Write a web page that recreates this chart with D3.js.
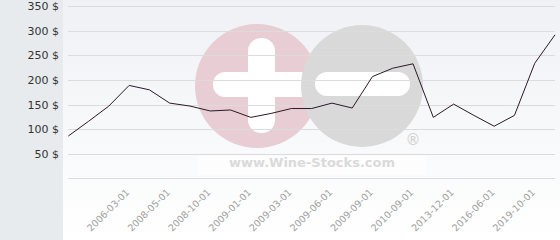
<!DOCTYPE html>
<html lang="en">
<head>
  <meta charset="utf-8">
  <title>Wine price</title>
  <style>
    html, body { margin: 0; padding: 0; background: #fff; }
    svg { display: block; font-family: "DejaVu Sans", Verdana, sans-serif; }
  </style>
</head>
<body>
  <div id="chart"></div>

  <script src="https://d3js.org/d3.v7.min.js"></script>
  <script type="text/javascript">
    // one price per point (only every 2nd point gets a label)
    const prices = [86, 116, 147, 189, 180, 153, 147, 137, 139, 124, 132, 142, 142,
                    153, 143, 207, 224, 233, 124, 151, 128, 106, 128, 234, 292];
    // labels sit on points 3, 5, 7 ... 23
    const tickLabels = ['2006-03-01', '2008-05-01', '2008-10-01', '2009-01-01', '2009-03-01',
                        '2009-06-01', '2009-09-01', '2010-09-01', '2013-12-01', '2016-06-01', '2019-10-01'];
    const yTicks = [0, 50, 100, 150, 200, 250, 300, 350];

    const width = 560;
    const height = 240;

    const x = d3.scalePoint()
      .domain(d3.range(prices.length))
      .range([68.3, 555]);
    const y = d3.scaleLinear()
      .domain([0, 350])
      .range([178.3, 6.3]);

    const svg = d3.select("#chart").append("svg")
      .attr("width", width)
      .attr("height", height);

    const defs = svg.append("defs");
    const grad = defs.append("linearGradient")
      .attr("id", "bg")
      .attr("x1", 0).attr("y1", 0).attr("x2", 0).attr("y2", 1);
    grad.append("stop").attr("offset", "0%").attr("stop-color", "#eff1f5");
    grad.append("stop").attr("offset", "100%").attr("stop-color", "#ffffff");

    // backgrounds
    svg.append("rect")
      .attr("x", 63).attr("y", 0)
      .attr("width", width - 63).attr("height", height)
      .attr("fill", "url(#bg)");
    svg.append("rect")
      .attr("x", 0).attr("y", 0)
      .attr("width", 63).attr("height", height)
      .attr("fill", "#e7ebee");

    // watermark
    const wm = svg.append("g").attr("class", "watermark");
    wm.append("rect")
      .attr("x", 197).attr("y", 156)
      .attr("width", 230).attr("height", 19)
      .attr("fill", "#ffffff").attr("opacity", 0.6);
    wm.append("circle")
      .attr("cx", 257).attr("cy", 86).attr("r", 62)
      .attr("fill", "#e8cdd4");
    wm.append("rect")
      .attr("x", 248).attr("y", 38).attr("width", 27).attr("height", 95)
      .attr("rx", 13).attr("fill", "#ffffff");
    wm.append("rect")
      .attr("x", 213).attr("y", 72).attr("width", 100).attr("height", 25)
      .attr("rx", 12).attr("fill", "#ffffff");
    wm.append("circle")
      .attr("cx", 362).attr("cy", 86).attr("r", 61)
      .attr("fill", "#d9d9d9");
    wm.append("rect")
      .attr("x", 315).attr("y", 72).attr("width", 95).attr("height", 24)
      .attr("rx", 12).attr("fill", "#ffffff");
    wm.append("text")
      .attr("x", 413).attr("y", 145)
      .attr("text-anchor", "middle")
      .attr("font-size", 15)
      .attr("fill", "#cfcfcf")
      .text("®");
    wm.append("text")
      .attr("x", 312).attr("y", 167)
      .attr("text-anchor", "middle")
      .attr("font-size", 13)
      .attr("font-weight", "bold")
      .attr("fill", "#dadada")
      .text("www.Wine-Stocks.com");

    // grid + y labels
    svg.append("g")
      .selectAll("line")
      .data(yTicks)
      .join("line")
      .attr("x1", 68).attr("x2", 555)
      .attr("y1", d => Math.round(y(d)) + 0.5)
      .attr("y2", d => Math.round(y(d)) + 0.5)
      .attr("stroke", "#dcdcdc")
      .attr("stroke-width", 1);

    svg.append("g")
      .selectAll("text")
      .data(yTicks.filter(d => d > 0))
      .join("text")
      .attr("x", 59)
      .attr("y", d => y(d) + 4)
      .attr("text-anchor", "end")
      .attr("font-size", 11)
      .attr("fill", "#333")
      .text(d => d + " $");

    // x labels on every 2nd point, starting at point 3
    svg.append("g")
      .selectAll("text")
      .data(tickLabels)
      .join("text")
      .attr("text-anchor", "end")
      .attr("font-size", 9.5)
      .attr("fill", "#a0a0a0")
      .attr("transform", (d, i) => `translate(${x(i * 2 + 3) + 1},193) rotate(-45)`)
      .text(d => d);

    // price line
    const line = d3.line()
      .x((d, i) => x(i))
      .y(d => y(d));

    svg.append("path")
      .datum(prices)
      .attr("fill", "none")
      .attr("stroke", "#2b1a26")
      .attr("stroke-width", 1)
      .attr("d", line);
  </script>
</body>
</html>
